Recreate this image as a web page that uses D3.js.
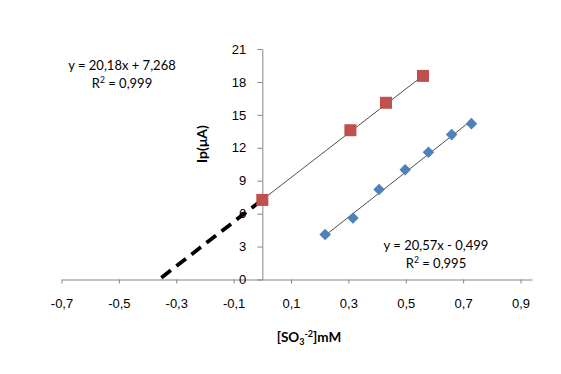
<!DOCTYPE html>
<html>
<head>
<meta charset="utf-8">
<script src="https://cdn.jsdelivr.net/npm/d3@7"></script>
<style>
  body { margin: 0; background: #fff; }
  svg { display: block; font-family: Lato, "Liberation Sans", sans-serif; }
  .axis path, .axis line { stroke: #868686; }
  .axis text { font-size: 13px; fill: #000; }
</style>
</head>
<body>
<svg width="561" height="374"></svg>
<script>
// sulfite calibration: two series + their linear fits
var xTicks = [-0.7, -0.5, -0.3, -0.1, 0.1, 0.3, 0.5, 0.7, 0.9];
var yTicks = [0, 3, 6, 9, 12, 15, 18, 21];

var concA = [0.219, 0.316, 0.407, 0.498, 0.579, 0.660, 0.729];
var ipA = [4.1, 5.6, 8.2, 10.0, 11.6, 13.2, 14.2];
var fitA = [20.57, -0.499];   // slope, intercept
var labelA = ["y = 20,57x - 0,499", "0,995"];

var concB = [0, 0.307, 0.431, 0.560];
var ipB = [7.25, 13.6, 16.1, 18.55];
var fitB = [20.18, 7.268];
var labelB = ["y = 20,18x + 7,268", "0,999"];

var svg = d3.select("svg");

var x = d3.scaleLinear().domain([-0.7, 0.94]).range([61.5, 532]);
var y = d3.scaleLinear().domain([0, 21]).range([279.5, 49]);

var loc = d3.formatLocale({decimal: ",", thousands: ".", grouping: [3], currency: ["", ""], minus: "-"});
var fmt = loc.format(".1f");

// x axis crosses at y = 0
svg.append("g")
    .attr("class", "axis")
    .attr("transform", "translate(0," + y(0) + ")")
    .call(d3.axisBottom(x).tickValues(xTicks).tickFormat(fmt)
      .tickSize(4).tickSizeOuter(0).tickPadding(15));

// y axis crosses at x = 0
svg.append("g")
    .attr("class", "axis")
    .attr("transform", "translate(" + x(0) + ",0)")
    .call(d3.axisLeft(y).tickValues(yTicks)
      .tickSize(5).tickSizeOuter(0).tickPadding(11));

function fitLine(f, x0, x1) {
  return [[x0, f[0] * x0 + f[1]], [x1, f[0] * x1 + f[1]]];
}
var line = d3.line()
    .x(function(d) { return x(d[0]); })
    .y(function(d) { return y(d[1]); });

// extrapolation to the x intercept
svg.append("path")
    .datum(fitLine(fitB, -fitB[1] / fitB[0], 0))
    .attr("d", line)
    .attr("fill", "none")
    .attr("stroke", "#000")
    .attr("stroke-width", 3.8)
    .attr("stroke-dasharray", "12,7")
    .attr("stroke-dashoffset", 16);

svg.append("path")
    .datum(fitLine(fitB, d3.min(concB), d3.max(concB)))
    .attr("d", line)
    .attr("fill", "none")
    .attr("stroke", "#222")
    .attr("stroke-width", 0.8);

svg.append("path")
    .datum(fitLine(fitA, d3.min(concA), d3.max(concA)))
    .attr("d", line)
    .attr("fill", "none")
    .attr("stroke", "#222")
    .attr("stroke-width", 0.8);

// markers
svg.append("g")
  .selectAll("rect")
  .data(concB)
  .enter().append("rect")
    .attr("x", function(d) { return x(d) - 6; })
    .attr("y", function(d, i) { return y(ipB[i]) - 6; })
    .attr("width", 12)
    .attr("height", 12)
    .attr("fill", "#c0504d");

svg.append("g")
  .selectAll("path")
  .data(concA)
  .enter().append("path")
    .attr("d", d3.symbol().type(d3.symbolDiamond2).size(85))
    .attr("transform", function(d, i) { return "translate(" + x(d) + "," + y(ipA[i]) + ")"; })
    .attr("fill", "#4f81bd");

// fit equations
function equation(lbl, cx, by) {
  var t = svg.append("g").attr("font-size", "13px").attr("text-anchor", "middle");
  t.append("text").attr("x", cx).attr("y", by).text(lbl[0]);
  var r = t.append("text").attr("x", cx).attr("y", by + 18);
  r.append("tspan").text("R");
  r.append("tspan").attr("font-size", "8.5px").attr("dy", -5).text("2");
  r.append("tspan").attr("dy", 5).text(" = " + lbl[1]);
}
equation(labelB, 122, 70);
equation(labelA, 436, 249.5);

// axis titles
var xt = svg.append("text")
    .attr("x", 309)
    .attr("y", 342)
    .attr("text-anchor", "middle")
    .attr("font-weight", "bold")
    .attr("font-size", "13.5px");
xt.append("tspan").text("[SO");
xt.append("tspan").attr("font-size", "9px").attr("dy", 3).text("3");
xt.append("tspan").attr("font-size", "9px").attr("dy", -8).text("-2");
xt.append("tspan").attr("dy", 5).text("]mM");

svg.append("text")
    .attr("transform", "translate(207,144) rotate(-90)")
    .attr("text-anchor", "middle")
    .attr("font-weight", "bold")
    .attr("font-size", "14px")
    .text("Ip(μA)");
</script>
</body>
</html>
